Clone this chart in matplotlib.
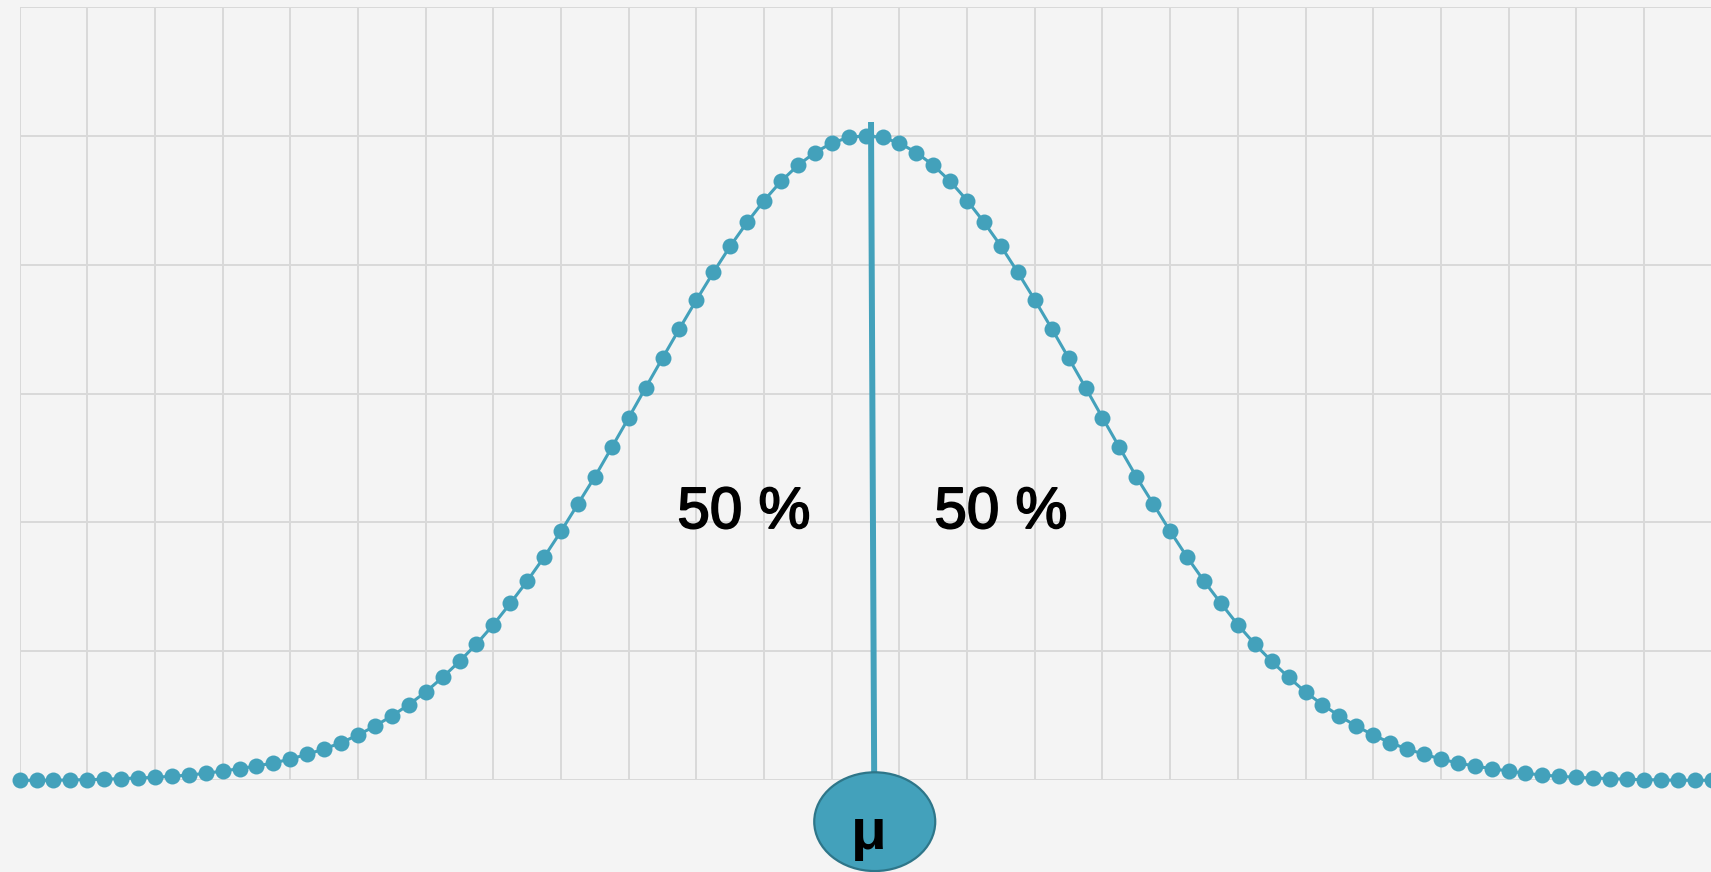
import numpy as np
import matplotlib
matplotlib.use('Agg')
import matplotlib.pyplot as plt
import matplotlib.patheffects as pe
from matplotlib.patches import Ellipse

# values, one point per step
density = [
    0.0, 0.0, 0.0, 0.003, 0.005, 0.008, 0.013, 0.018, 0.023, 0.031,
    0.041, 0.054, 0.072, 0.090, 0.111, 0.134, 0.165, 0.202, 0.243, 0.292,
    0.351, 0.421, 0.499, 0.587, 0.685, 0.799, 0.923, 1.057, 1.207, 1.373,
    1.546, 1.732, 1.932, 2.144, 2.355, 2.583, 2.813, 3.046, 3.276, 3.504,
    3.726, 3.940, 4.144, 4.329, 4.498, 4.647, 4.771, 4.870, 4.943, 4.988,
    5.000,
    4.988, 4.943, 4.870, 4.771, 4.647, 4.498, 4.329, 4.144, 3.940, 3.726,
    3.504, 3.276, 3.046, 2.813, 2.583, 2.355, 2.144, 1.932, 1.732, 1.546,
    1.373, 1.207, 1.057, 0.923, 0.799, 0.685, 0.587, 0.499, 0.421, 0.351,
    0.292, 0.243, 0.202, 0.165, 0.134, 0.111, 0.090, 0.072, 0.054, 0.041,
    0.031, 0.023, 0.018, 0.013, 0.008, 0.005, 0.003, 0.0, 0.0, 0.0,
]
steps = np.arange(len(density))

mean_top = (50.32, 5.107)
mean_bottom = (50.51, -0.05)
label_left = '50 %'
label_right = '50 %'
mean_label = 'μ'

teal = '#43a1bb'
bg = '#f4f4f4'

fig = plt.figure(figsize=(17.11, 8.72), dpi=100, facecolor=bg)
ax = fig.add_axes([0.01146, 0.10516, 0.98889, 0.88693])
ax.set_facecolor(bg)

ax.plot(steps, density, color=teal, lw=2.2, marker='o', markersize=11.5,
        markeredgewidth=0, clip_on=False, zorder=3)

# vertical mean line
ax.plot([mean_top[0], mean_bottom[0]], [mean_top[1], mean_bottom[1]],
        color=teal, lw=4.3, solid_capstyle='butt', clip_on=False, zorder=4)

ell = Ellipse((50.54, -0.321), 7.15, 0.766, facecolor=teal, edgecolor='#2e7689',
              lw=1.6, clip_on=False, zorder=5)
ax.add_patch(ell)
ax.text(50.16, -0.533, mean_label, ha='center', va='baseline', fontsize=42,
        fontweight='bold', family='Liberation Sans', color='black', zorder=6,
        clip_on=False)

# slightly heavier than regular weight, like the original
heavy = [pe.withStroke(linewidth=1.3, foreground='black')]
ax.text(42.81, 1.957, label_left, ha='center', va='baseline', fontsize=42,
        family='Liberation Sans', color='black', zorder=6, path_effects=heavy)
ax.text(58.0, 1.957, label_right, ha='center', va='baseline', fontsize=42,
        family='Liberation Sans', color='black', zorder=6, path_effects=heavy)

ax.set_xlim(0, 100)
ax.set_ylim(0, 6)
ax.set_xticks(np.arange(0, 101, 4))
ax.set_yticks(np.arange(0, 7, 1))
ax.grid(True, color='#d9d9d9', lw=1.4)
ax.set_axisbelow(True)
ax.tick_params(length=0, labelbottom=False, labelleft=False)
for s in ax.spines.values():
    s.set_visible(False)

fig.savefig('out.png', dpi=100, facecolor=bg)
